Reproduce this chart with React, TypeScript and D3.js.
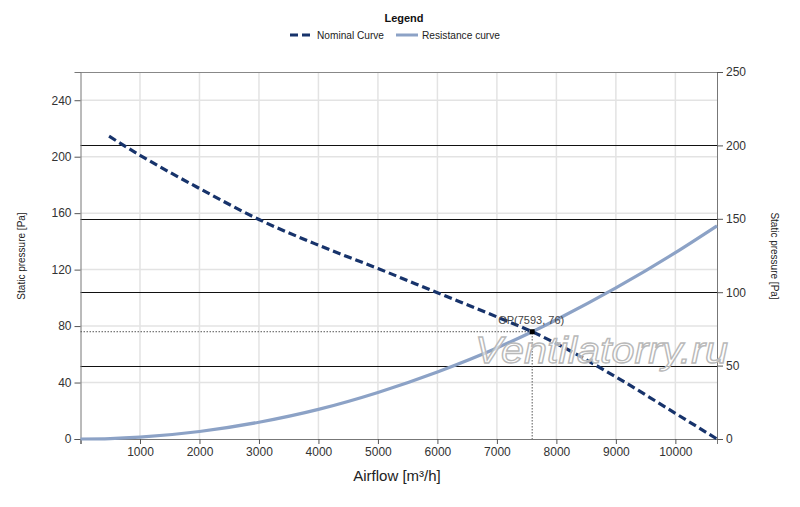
import { useEffect, useRef } from 'react';
import * as d3 from 'd3';

// nominal fan curve (left axis, Pa)
const nominalFlow = [480, 1000, 2000, 3000, 4000, 5000, 6000, 7000, 7593, 8000, 9000, 10000, 10700];
const nominalPressure = [214.5, 201, 177.5, 155.5, 137.3, 120.8, 103.6, 86.5, 76, 67.6, 44, 18.2, 0];

// system resistance curve
const resistanceFlow = [0, 500, 1000, 2000, 3000, 4000, 5000, 6000, 7000, 7593, 8000, 9000, 10000, 10700];
const resistancePressure = [0, 0.3, 1.3, 5.3, 11.9, 21, 33, 47.5, 64.5, 76, 84.5, 107, 132, 151];

const opFlow = 7593;
const opPressure = 76;

const xTicks = [0, 1000, 2000, 3000, 4000, 5000, 6000, 7000, 8000, 9000, 10000];
const leftTicks = [0, 40, 80, 120, 160, 200, 240];
const rightTicks = [0, 50, 100, 150, 200, 250];

const W = 800;
const H = 507;
const left = 80.5;
const right = 717;
const top = 72;
const bottom = 439;

const font = '"Liberation Sans", Arial, sans-serif';

function FanChart() {
  const svgRef = useRef(null);

  useEffect(() => {
    const svg = d3.select(svgRef.current);
    svg.selectAll('*').remove();

    const x = d3.scaleLinear().domain([0, 10700]).range([left, right]);
    const yL = d3.scaleLinear().domain([0, 260]).range([bottom, top]);
    const yR = d3.scaleLinear().domain([0, 250]).range([bottom, top]);

    // light grid
    const grid = svg.append('g');
    grid
      .selectAll('line.vx')
      .data(xTicks.filter(d => d > 0))
      .join('line')
      .attr('x1', d => x(d))
      .attr('x2', d => x(d))
      .attr('y1', top)
      .attr('y2', bottom)
      .attr('stroke', '#e3e3e3')
      .attr('stroke-width', 1.5);
    grid
      .selectAll('line.hy')
      .data(leftTicks.filter(d => d > 0))
      .join('line')
      .attr('x1', left)
      .attr('x2', right)
      .attr('y1', d => yL(d))
      .attr('y2', d => yL(d))
      .attr('stroke', '#e3e3e3')
      .attr('stroke-width', 1.5);

    // black lines at the right axis ticks
    svg
      .append('g')
      .selectAll('line')
      .data(rightTicks.filter(d => d > 0 && d < 250))
      .join('line')
      .attr('x1', left)
      .attr('x2', right)
      .attr('y1', d => Math.round(yR(d)) + 0.5)
      .attr('y2', d => Math.round(yR(d)) + 0.5)
      .attr('stroke', '#111')
      .attr('stroke-width', 1);

    // top border
    svg
      .append('line')
      .attr('x1', left)
      .attr('x2', right)
      .attr('y1', top + 0.5)
      .attr('y2', top + 0.5)
      .attr('stroke', '#888');

    // axes
    const styleAxis = (g: any) => {
      g.selectAll('.domain').attr('stroke', '#777');
      g.selectAll('.tick line').attr('stroke', '#555');
      g.selectAll('.tick text')
        .attr('fill', '#333')
        .style('font-family', font)
        .style('font-size', '12px');
    };

    svg
      .append('g')
      .attr('transform', `translate(0,${bottom})`)
      .call(
        d3
          .axisBottom(x)
          .tickValues(xTicks)
          .tickSizeOuter(0)
          .tickSize(5)
          .tickFormat(d => (d === 0 ? '' : String(d)))
      )
      .call(styleAxis);

    svg
      .append('g')
      .attr('transform', `translate(${left},0)`)
      .call(d3.axisLeft(yL).tickValues(leftTicks).tickSizeOuter(0).tickSize(6))
      .call(styleAxis);

    svg
      .append('g')
      .attr('transform', `translate(${right},0)`)
      .call(d3.axisRight(yR).tickValues(rightTicks).tickSizeOuter(0).tickSize(6))
      .call(styleAxis);

    // curves
    const resistance = resistanceFlow.map((f, i) => [f, resistancePressure[i]] as [number, number]);
    const nominal = nominalFlow.map((f, i) => [f, nominalPressure[i]] as [number, number]);
    const line = d3
      .line<[number, number]>()
      .x(d => x(d[0]))
      .y(d => yL(d[1]))
      .curve(d3.curveMonotoneX);

    svg
      .append('path')
      .datum(resistance)
      .attr('d', line)
      .attr('fill', 'none')
      .attr('stroke', '#8ca2c6')
      .attr('stroke-width', 3.2);

    // operating point helpers
    svg
      .append('path')
      .attr('d', `M${left},${yL(opPressure)}H${x(opFlow)}V${bottom}`)
      .attr('fill', 'none')
      .attr('stroke', '#555')
      .attr('stroke-width', 1)
      .attr('stroke-dasharray', '1.5,1.5');

    svg
      .append('path')
      .datum(nominal)
      .attr('d', line)
      .attr('fill', 'none')
      .attr('stroke', '#17336b')
      .attr('stroke-width', 3.2)
      .attr('stroke-dasharray', '8,4');

    svg
      .append('rect')
      .attr('x', x(opFlow) - 2.5)
      .attr('y', yL(opPressure) - 2.5)
      .attr('width', 5)
      .attr('height', 5)
      .attr('fill', '#000');

    svg
      .append('text')
      .attr('x', x(opFlow) - 1)
      .attr('y', yL(opPressure) - 8)
      .attr('text-anchor', 'middle')
      .attr('fill', '#444')
      .style('font-family', font)
      .style('font-size', '11px')
      .text(`OP(${opFlow}, ${opPressure})`);

    // watermark
    svg
      .append('text')
      .attr('x', 475)
      .attr('y', 363)
      .attr('textLength', 253)
      .attr('lengthAdjust', 'spacingAndGlyphs')
      .attr('fill', 'rgba(255,255,255,0.6)')
      .attr('stroke', '#b9b9b9')
      .attr('stroke-width', 1.3)
      .style('font-family', font)
      .style('font-style', 'italic')
      .style('font-size', '37px')
      .text('Ventilatorry.ru');

    // axis titles
    svg
      .append('text')
      .attr('x', 397)
      .attr('y', 481)
      .attr('text-anchor', 'middle')
      .attr('fill', '#222')
      .style('font-family', font)
      .style('font-size', '15px')
      .text('Airflow [m³/h]');

    svg
      .append('text')
      .attr('transform', 'translate(25,256) rotate(-90)')
      .attr('text-anchor', 'middle')
      .attr('fill', '#222')
      .style('font-family', font)
      .style('font-size', '10px')
      .text('Static pressure [Pa]');

    svg
      .append('text')
      .attr('transform', 'translate(771,256) rotate(90)')
      .attr('text-anchor', 'middle')
      .attr('fill', '#222')
      .style('font-family', font)
      .style('font-size', '10px')
      .text('Static pressure [Pa]');

    // legend
    svg
      .append('text')
      .attr('x', 404)
      .attr('y', 22)
      .attr('text-anchor', 'middle')
      .attr('fill', '#111')
      .style('font-family', font)
      .style('font-size', '11px')
      .style('font-weight', 'bold')
      .text('Legend');

    const legend = svg.append('g').attr('transform', 'translate(0,35)');
    legend
      .append('line')
      .attr('x1', 290)
      .attr('x2', 313)
      .attr('stroke', '#17336b')
      .attr('stroke-width', 3)
      .attr('stroke-dasharray', '8,4');
    legend
      .append('text')
      .attr('x', 317)
      .attr('y', 4)
      .attr('textLength', 67)
      .attr('lengthAdjust', 'spacingAndGlyphs')
      .attr('fill', '#222')
      .style('font-family', font)
      .style('font-size', '11px')
      .text('Nominal Curve');
    legend
      .append('line')
      .attr('x1', 396)
      .attr('x2', 418)
      .attr('stroke', '#8ca2c6')
      .attr('stroke-width', 3);
    legend
      .append('text')
      .attr('x', 422)
      .attr('y', 4)
      .attr('textLength', 78)
      .attr('lengthAdjust', 'spacingAndGlyphs')
      .attr('fill', '#222')
      .style('font-family', font)
      .style('font-size', '11px')
      .text('Resistance curve');
  }, []);

  return (
    <svg
      ref={svgRef}
      width={W}
      height={H}
      style={{ position: 'absolute', left: 0, top: 0, background: '#fff' }}
    />
  );
}

export default function App() {
  return <FanChart />;
}
